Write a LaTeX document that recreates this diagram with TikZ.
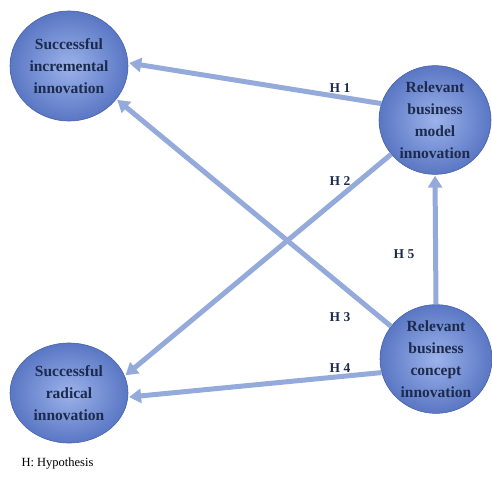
\documentclass[tikz,border=0pt]{standalone}
\usepackage{fontspec}
\setmainfont{Liberation Serif}
\usepackage{xcolor}
\usetikzlibrary{arrows.meta, shapes.geometric}
\definecolor{ballin}{HTML}{9CB2EA}
\definecolor{ballout}{HTML}{5A77C4}
\definecolor{ballrim}{HTML}{4A62A6}
\definecolor{hypline}{HTML}{93AADB}
\definecolor{inktext}{HTML}{1C2A4C}
\tikzset{
  concept/.style={ellipse, draw=ballrim, line width=0.6pt, shading=radial,
    inner color=ballin, outer color=ballout, inner sep=0pt, align=center,
    text=inktext, font=\fontsize{15.5}{22}\selectfont\bfseries},
  hyp/.style={draw=hypline, line width=5pt,
    -{Triangle[length=12pt,width=14pt]}, shorten >=1pt},
  hlabel/.style={font=\fontsize{13.5}{15}\selectfont\bfseries, text=inktext}
}
\begin{document}
\begin{tikzpicture}[x=1pt, y=1pt]
  \useasboundingbox (0,0) rectangle (492,480);
  % circles
  \node[concept, minimum width=118pt, minimum height=110pt] (sii) at (69,414) {Successful\\incremental\\innovation};
  \node[concept, minimum width=112pt, minimum height=108pt] (bmi) at (435,360) {Relevant\\business\\model\\innovation};
  \node[concept, minimum width=112pt, minimum height=108pt] (bci) at (436,121) {Relevant\\business\\concept\\innovation};
  \node[concept, minimum width=118pt, minimum height=100pt] (sri) at (69,87) {Successful\\radical\\innovation};
  % hypotheses
  \draw[hyp] (bmi.163) -- (sii.3);
  \draw[hyp] (bmi.218) -- (sri.17);
  \draw[hyp] (bci.144) -- (sii.-35);
  \draw[hyp] (bci.194) -- (sri.-4);
  \draw[hyp] (bci.90) -- (bmi.-90);
  \node[hlabel] (h1) at (340,392) {H 1};
  \node[hlabel] (h2) at (340,299) {H 2};
  \node[hlabel] (h3) at (340,163) {H 3};
  \node[hlabel] (h4) at (340,112) {H 4};
  \node[hlabel] (h5) at (404,226) {H 5};
  \node[font=\fontsize{12.5}{14}\selectfont, anchor=west] (note) at (18,16) {H: Hypothesis};
\end{tikzpicture}
\end{document}
